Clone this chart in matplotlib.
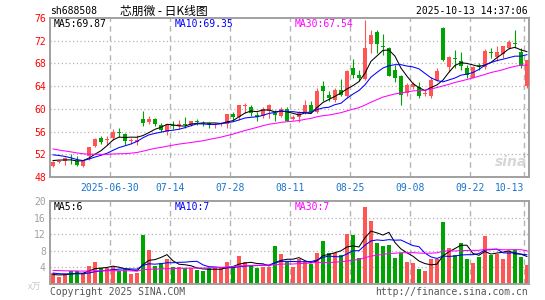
import numpy as np
import pandas as pd
import matplotlib
matplotlib.use("Agg")
import matplotlib.pyplot as plt

# 日K数据 (2025-06-16 ~ 2025-10-13), 图上读出的估计值
opens = [50.0, 50.7, 50.8, 51.2, 50.9, 49.9, 51.7, 53.5, 54.8, 54.5,
         54.9, 55.8, 55.6, 54.3, 54.2, 58.3, 57.7, 58.3, 57.2, 56.0,
         57.1, 56.9, 57.3, 57.2, 57.8, 57.5, 57.4, 57.2, 57.3, 57.4,
         59.1, 58.6, 60.5, 60.4, 58.9, 58.8, 59.6, 59.2, 58.8, 60.0,
         58.2, 58.6, 59.4, 60.7, 59.5, 64.1, 62.5, 61.6, 63.4, 62.2,
         67.2, 66.0, 65.3, 71.5, 73.5, 71.0, 70.7, 66.8, 65.7, 62.8,
         63.9, 63.9, 62.6, 62.2, 65.1, 74.2, 67.3, 68.9, 68.5, 67.2,
         65.5, 67.7, 67.3, 69.9, 69.2, 69.6, 70.7, 71.6, 70.1, 64.0]
highs = [50.8, 51.0, 51.5, 52.0, 51.7, 51.0, 53.3, 54.8, 55.2, 55.2,
         56.4, 56.6, 55.7, 54.9, 55.4, 59.6, 58.7, 58.4, 57.5, 57.3,
         57.8, 58.0, 58.5, 57.9, 58.2, 57.8, 57.7, 57.5, 57.7, 59.1,
         59.5, 60.7, 61.0, 60.6, 59.5, 60.4, 60.8, 59.8, 60.3, 60.4,
         58.9, 59.6, 61.6, 61.3, 63.7, 64.9, 63.1, 63.7, 65.3, 66.9,
         68.7, 66.9, 75.6, 73.8, 73.9, 73.1, 70.9, 67.8, 65.9, 64.5,
         64.8, 64.8, 63.4, 65.6, 67.2, 74.4, 69.3, 70.4, 70.1, 67.8,
         67.6, 68.1, 70.5, 70.7, 71.0, 71.0, 72.2, 73.8, 70.7, 68.6]
lows = [49.7, 50.5, 50.1, 50.3, 49.9, 49.7, 51.0, 53.2, 53.8, 53.6,
        54.6, 55.1, 53.6, 53.8, 53.6, 56.9, 57.3, 56.9, 56.0, 55.4,
        56.4, 56.4, 56.6, 56.9, 57.2, 56.9, 56.6, 56.6, 57.0, 56.6,
        57.8, 58.1, 59.3, 58.8, 57.9, 58.4, 58.4, 57.8, 58.5, 57.8,
        58.0, 57.6, 59.1, 59.2, 59.2, 61.3, 61.3, 61.2, 62.2, 62.0,
        65.5, 64.9, 65.0, 69.9, 69.8, 69.5, 65.7, 64.8, 60.7, 62.3,
        63.5, 61.9, 62.2, 62.0, 64.9, 68.4, 66.5, 67.2, 66.9, 65.4,
        65.4, 66.9, 67.0, 68.9, 68.4, 68.9, 70.5, 70.7, 67.2, 63.6]
closes = [50.7, 50.9, 51.3, 51.1, 50.1, 51.0, 53.2, 54.7, 54.1, 54.6,
          56.0, 55.7, 54.4, 54.4, 54.5, 57.5, 58.3, 57.3, 56.2, 57.1,
          57.0, 57.4, 57.2, 57.9, 57.7, 57.4, 57.3, 57.3, 57.4, 59.1,
          58.5, 60.7, 60.6, 59.2, 58.5, 60.0, 60.7, 58.9, 60.0, 57.9,
          58.6, 59.2, 60.7, 59.5, 63.1, 63.1, 61.9, 63.4, 62.5, 66.6,
          66.0, 65.5, 70.7, 73.0, 71.4, 70.9, 65.8, 65.4, 62.5, 64.2,
          64.4, 62.2, 62.8, 65.1, 66.6, 68.6, 69.1, 68.8, 67.5, 66.0,
          67.3, 67.6, 70.2, 69.8, 70.1, 71.0, 71.8, 71.5, 67.5, 68.6]
# 成交量 (万手)
volumes = [2.6, 1.8, 2.4, 3.1, 3.1, 2.6, 4.4, 5.3, 3.8, 3.8,
           4.2, 3.1, 3.5, 2.4, 2.6, 11.7, 8.3, 4.4, 5.0, 6.0,
           4.2, 4.2, 3.8, 3.8, 3.3, 3.1, 3.8, 3.8, 3.8, 5.2,
           4.4, 6.7, 5.2, 4.6, 3.8, 4.0, 4.2, 9.1, 7.3, 5.2,
           4.1, 6.1, 5.4, 4.8, 7.5, 10.4, 7.5, 7.5, 7.1, 12.1,
           11.7, 6.2, 18.5, 15.2, 10.0, 9.1, 9.5, 6.2, 7.5, 5.3,
           5.0, 3.7, 3.1, 6.0, 6.1, 14.9, 8.7, 7.0, 10.0, 6.1,
           5.1, 6.4, 11.6, 6.9, 7.3, 6.1, 8.0, 8.1, 6.4, 4.6]

# 图左侧以前的29天 (只用于计算均线, 估计值)
prev_closes = [56.5, 56.2, 55.9, 55.6, 55.4, 55.2, 55.0, 54.8, 54.6, 54.4,
               54.3, 54.1, 51.5, 51.0, 50.6, 50.4, 50.5, 50.8, 51.0, 51.2,
               52.0, 53.0, 53.5, 53.2, 52.8, 50.5, 51.2, 51.0, 51.1]
prev_volumes = [3.2, 4.1, 3.5, 3.8, 3.3, 4.5, 3.6, 3.1, 3.9, 3.4,
                3.7, 3.0, 4.2, 3.5, 3.3, 3.8, 3.6, 3.4, 3.9, 3.2,
                3.4, 2.8, 3.1, 2.9, 2.8, 2.3, 2.1, 2.2, 2.2]

date_pos = [9.5, 19.5, 29.5, 39.5, 49.5, 59.5, 69.5, 78.5]
date_labels = ["2025-06-30", "07-14", "07-28", "08-11", "08-25", "09-08", "09-22", "10-13"]
price_ticks = [48, 52, 56, 60, 64, 68, 72, 76]
vol_ticks = [4, 8, 12, 16, 20]

ma_price_text = ["MA5:69.87", "MA10:69.35", "MA30:67.54"]
ma_vol_text = ["MA5:6", "MA10:7", "MA30:7"]

RED = "#ff5555"
GREEN = "#00a400"
GRID = "#b4b4b4"
FRAME = "#a0a0a0"
MA_COLORS = ["black", "#0000ff", "#ff00ff"]
MONO = "DejaVu Sans Mono"
CJK = ["Noto Sans CJK SC", "DejaVu Sans"]

n = len(closes)
x = np.arange(n)
o = np.array(opens); h = np.array(highs); l = np.array(lows); c = np.array(closes)
v = np.array(volumes)
up = c >= o
colors = np.where(up, RED, GREEN)

all_c = pd.Series(prev_closes + closes)
all_v = pd.Series(prev_volumes + volumes)
k = len(prev_closes)
ma_c = [all_c.rolling(w).mean().values[k:] for w in (5, 10, 30)]
ma_v = [all_v.rolling(w).mean().values[k:] for w in (5, 10, 30)]

W, H = 545, 300
fig = plt.figure(figsize=(W / 100, H / 100), dpi=100)
ax1 = fig.add_axes([50 / W, (H - 177) / H, 479 / W, 159 / H])
ax2 = fig.add_axes([50 / W, (H - 284) / H, 479 / W, 83 / H])

def style(ax):
    for s in ax.spines.values():
        s.set_color(FRAME)
        s.set_linewidth(1.4)
    for xp in date_pos:
        ax.axvline(xp, color=GRID, lw=1.0, ls=(0, (4, 3)), zorder=0)
    ax.set_xlim(-0.5, 79.35)
    ax.tick_params(length=0)

# K线
style(ax1)
for yv in price_ticks[1:-1]:
    ax1.axhline(yv, color=GRID, lw=0.9, ls=(0, (1, 2)), zorder=0)
ax1.vlines(x, l, h, colors=colors, lw=0.8, zorder=2)
body = np.maximum(np.abs(c - o), 0.15)
ax1.bar(x, body, bottom=np.minimum(o, c), width=0.78, color=colors, lw=0, zorder=3)
for m, col in zip(ma_c, MA_COLORS):
    ax1.plot(x, m, color=col, lw=0.75, zorder=4)
ax1.set_ylim(48, 76)
ax1.set_yticks(price_ticks)
ax1.set_yticklabels([str(t) for t in price_ticks], color="red", fontsize=7, family=MONO)
ax1.tick_params(axis="y", pad=3)
ax1.set_xticks(date_pos)
ax1.set_xticklabels(date_labels, color="#1874cd", fontsize=7, family=MONO)
ax1.tick_params(axis="x", pad=4)
ax1.get_xticklabels()[-1].set_ha("right")
for t, xp, col in zip(ma_price_text, (0.008, 0.261, 0.511), MA_COLORS):
    ax1.text(xp, 0.962, t, transform=ax1.transAxes, color=col, fontsize=7,
             family=MONO, va="center", ha="left")
ax1.text(0.962, 0.095, "sina", transform=ax1.transAxes, color="#d6d6d6", fontsize=10,
         style="italic", weight="bold", ha="center", va="center", zorder=1)

# 成交量
style(ax2)
for yv in vol_ticks[:-1]:
    ax2.axhline(yv, color=GRID, lw=0.9, ls=(0, (1, 2)), zorder=0)
ax2.bar(x, v, width=0.78, color=colors, lw=0, zorder=2)
for m, col in zip(ma_v, MA_COLORS):
    ax2.plot(x, m, color=col, lw=0.75, zorder=3)
ax2.set_ylim(0, 20)
ax2.set_yticks(vol_ticks)
ax2.set_yticklabels([str(t) for t in vol_ticks], color="#a0a0a0", fontsize=7, family=MONO)
ax2.tick_params(axis="y", pad=3)
ax2.set_xticks([])
for t, xp, col in zip(ma_vol_text, (0.008, 0.261, 0.511), MA_COLORS):
    ax2.text(xp, 0.925, t, transform=ax2.transAxes, color=col, fontsize=7,
             family=MONO, va="center", ha="left")

# 标题和其他文字
fig.text(50 / W, 1 - 11 / H, "sh688508", fontsize=7, family=MONO, va="center")
fig.text(120 / W, 1 - 11 / H, "芯朋微 - 日K线图", fontsize=8.5, family=CJK, va="center")
fig.text(528 / W, 1 - 11 / H, "2025-10-13 14:37:06", fontsize=7, family=MONO,
         va="center", ha="right")
fig.text(28 / W, 1 - 287 / H, "x万", fontsize=6.5, family=CJK, color="#c8c8c8", va="center")
fig.text(50 / W, 1 - 292 / H, "Copyright 2025 SINA.COM", fontsize=7, family=MONO,
         color="#555555", va="center")
fig.text(528 / W, 1 - 292 / H, "http://finance.sina.com.cn", fontsize=7, family=MONO,
         color="#555555", va="center", ha="right")

fig.savefig("out.png", dpi=100)
